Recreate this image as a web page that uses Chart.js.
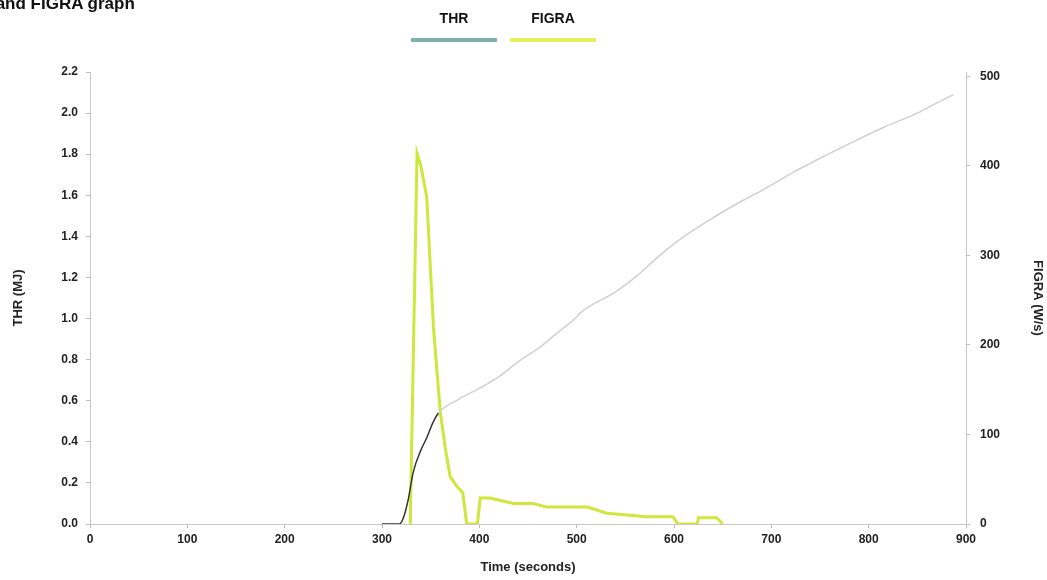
<!DOCTYPE html>
<html>
<head>
<meta charset="utf-8">
<script src="https://cdn.jsdelivr.net/npm/chart.js@4.4.1/dist/chart.umd.min.js"></script>
<style>
  html, body { margin: 0; padding: 0; background: #fff; overflow: hidden; }
  #wrap { position: relative; width: 1047px; height: 580px; overflow: hidden; }
  #title { position: absolute; left: -44px; top: -5px; font: bold 17px/17px "Liberation Sans", Arial, sans-serif; color: #111; white-space: nowrap; }
  canvas { position: absolute; left: 0; top: 0; }
</style>
</head>
<body>
<div id="wrap">
  <canvas id="chart" width="1047" height="580"></canvas>
  <div id="title">THR and FIGRA graph</div>
</div>
<script>
// THR (MJ), left axis
const thrTime   = [300, 318, 322, 327, 332, 340, 346, 352, 358, 380, 400, 421, 440, 462, 480, 496, 507, 540, 560, 586, 599, 620, 640, 665, 689, 722, 750, 784, 815, 850, 870, 887];
const thrValues = [0, 0, 0.03, 0.12, 0.25, 0.36, 0.42, 0.49, 0.54, 0.61, 0.66, 0.72, 0.79, 0.86, 0.93, 0.99, 1.04, 1.13, 1.20, 1.31, 1.36, 1.43, 1.49, 1.56, 1.62, 1.71, 1.78, 1.86, 1.93, 2.00, 2.05, 2.09];

// FIGRA (W/s), right axis
const figraTime   = [329, 336, 340, 346, 353, 360, 365, 370, 377, 383, 387, 398, 401, 411, 435, 455, 469, 511, 531, 572, 599, 604, 624, 625, 644, 650];
const figraValues = [0, 414, 400, 365, 217, 124, 85, 53, 42, 35, 0, 0, 29, 29, 23, 23, 19, 19, 12, 8, 8, 0, 0, 7, 7, 0];

const xTicks = [0, 100, 200, 300, 400, 500, 600, 700, 800, 900];
const figraTicks = [0, 100, 200, 300, 400, 500];

const toPoints = (xs, ys) => xs.map((x, i) => ({ x: x, y: ys[i] }));

const tickFont = { family: '"Liberation Sans", Arial, sans-serif', size: 12, weight: 'bold' };
const titleFont = { family: '"Liberation Sans", Arial, sans-serif', size: 13, weight: 'bold' };

// legend: label text above a thick line
const topLegend = {
    id: 'topLegend',
    afterDraw(chart) {
        const ctx = chart.ctx;
        const centers = [454, 553];
        ctx.save();
        ctx.font = 'bold 14px "Liberation Sans Narrow", "Liberation Sans", Arial, sans-serif';
        ctx.textAlign = 'center';
        ctx.textBaseline = 'middle';
        chart.data.datasets.forEach((ds, i) => {
            const cx = centers[i];
            ctx.fillStyle = '#111';
            ctx.fillText(ds.label, cx, 19);
            ctx.strokeStyle = ds.legendColor;
            ctx.lineWidth = 4;
            ctx.beginPath();
            ctx.moveTo(cx - 43, 40);
            ctx.lineTo(cx + 43, 40);
            ctx.stroke();
        });
        ctx.restore();
    }
};

new Chart('chart', {
    type: 'line',
    data: {
        datasets: [{
            label: 'THR',
            data: toPoints(thrTime, thrValues),
            yAxisID: 'y',
            legendColor: '#7fb3a9',
            borderColor: '#7fb3a9',
            borderWidth: 1.5,
            pointRadius: 0,
            cubicInterpolationMode: 'monotone',
            segment: {
                borderColor: (c) => c.p0.parsed.x < 358 ? '#333' : '#d0d0d0'
            }
        }, {
            label: 'FIGRA',
            data: toPoints(figraTime, figraValues),
            yAxisID: 'y1',
            legendColor: '#e6f05c',
            borderColor: '#cde83c',
            borderWidth: 3,
            pointRadius: 0,
            tension: 0
        }]
    },
    options: {
        responsive: false,
        animation: false,
        layout: { padding: { top: 72, left: 0, right: 0, bottom: 0 } },
        plugins: {
            legend: { display: false },
            tooltip: { enabled: false }
        },
        scales: {
            x: {
                type: 'linear',
                min: 0,
                max: 900,
                afterBuildTicks: (s) => { s.ticks = xTicks.map(v => ({ value: v })); },
                afterFit: (s) => { s.height = 56; },
                grid: { drawOnChartArea: false, color: '#bbb', tickLength: 4 },
                border: { color: '#c8c8c8' },
                ticks: { font: tickFont, color: '#222', padding: 4, maxRotation: 0 },
                title: { display: true, text: 'Time (seconds)', font: titleFont, color: '#222', padding: { top: 2, bottom: 5 } }
            },
            y: {
                position: 'left',
                min: 0,
                max: 2.2,
                afterFit: (s) => { s.width = 90; },
                grid: { drawOnChartArea: false, color: '#bbb', tickLength: 4 },
                border: { color: '#c8c8c8' },
                ticks: { stepSize: 0.2, font: tickFont, color: '#222', padding: 8, callback: (v) => v.toFixed(1) },
                title: { display: true, text: 'THR (MJ)', font: titleFont, color: '#222', padding: { top: 11, bottom: 4 } }
            },
            y1: {
                position: 'right',
                min: 0,
                max: 505,
                afterBuildTicks: (s) => { s.ticks = figraTicks.map(v => ({ value: v })); },
                afterFit: (s) => { s.width = 81; },
                grid: { drawOnChartArea: false, color: '#bbb', tickLength: 4 },
                border: { color: '#c8c8c8' },
                ticks: { font: tickFont, color: '#222', padding: 10, callback: (v) => String(v) },
                title: { display: true, text: 'FIGRA (W/s)', font: titleFont, color: '#222', padding: { top: 2, bottom: 4 } }
            }
        }
    },
    plugins: [topLegend]
});
</script>
</body>
</html>
